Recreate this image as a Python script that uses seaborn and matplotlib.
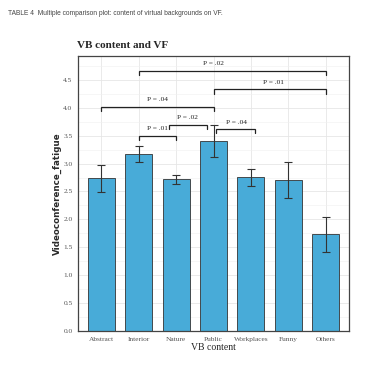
import numpy as np
import pandas as pd
import matplotlib
matplotlib.use("Agg")
import matplotlib.pyplot as plt
import seaborn as sns

# ─────────────────────────────────────────────
# Multiple comparison plot — VB content vs videoconference fatigue
# ─────────────────────────────────────────────

categories = ["Abstract", "Interior", "Nature", "Public", "Workplaces", "Funny", "Others"]
means      = [2.74, 3.17, 2.72, 3.41, 2.76, 2.71, 1.73]
err_low    = [2.49, 3.02, 2.64, 3.11, 2.60, 2.39, 1.41]
err_high   = [2.98, 3.31, 2.80, 3.70, 2.90, 3.02, 2.04]

# pairwise comparisons: (from group, to group, bracket height, label)
comp_from   = [1.0, 3.0, 0.0, 1.8, 1.0, 3.07]
comp_to     = [6.0, 6.0, 3.0, 2.83, 2.0, 4.12]
comp_height = [4.66, 4.33, 4.02, 3.70, 3.50, 3.62]
comp_label  = ["P = .02", "P = .01", "P = .04", "P = .02", "P = .01", "P = .04"]
label_x     = [3.0, 4.6, 1.5, 2.3, 1.5, 3.6]

BAR_COLOR = "#48ABD8"
SERIF = ["Liberation Serif", "DejaVu Serif"]

sns.set_style("white")
plt.rcParams["font.family"] = ["DejaVu Sans"]

df = pd.DataFrame({"content": categories, "fatigue": means})

fig = plt.figure(figsize=(3.65, 3.65), dpi=100)
ax = fig.add_axes([0.2137, 0.093, 0.7425, 0.754])

sns.barplot(data=df, x="content", y="fatigue", order=categories,
            color=BAR_COLOR, saturation=1, width=0.72, errorbar=None,
            edgecolor="#333333", linewidth=0.6, ax=ax, zorder=2)

xs = np.arange(len(categories))
m = np.array(means)
yerr = np.vstack([m - np.array(err_low), np.array(err_high) - m])
ax.errorbar(xs, m, yerr=yerr, fmt="none", ecolor="#333333",
            elinewidth=0.8, capsize=2.8, capthick=0.8, zorder=3)

tip = 0.08
for x1, x2, h, lab, lx in zip(comp_from, comp_to, comp_height, comp_label, label_x):
    ax.plot([x1, x1, x2, x2], [h - tip, h, h, h - tip], color="#222222",
            linewidth=0.9, zorder=4, solid_joinstyle="miter")
    ax.text(lx, h + 0.08, lab, ha="center", va="bottom", fontsize=5.3,
            family=SERIF, color="#222222")

ax.set_ylim(0, 4.93)
ax.set_xlim(-0.62, 6.62)
ax.set_yticks(np.arange(0, 4.51, 0.5))
ax.set_yticks(np.arange(0.25, 4.9, 0.5), minor=True)
ax.set_yticklabels([f"{v:.1f}" for v in np.arange(0, 4.51, 0.5)])
ax.grid(True, which="major", color="#e6e6e6", linewidth=0.6, zorder=0)
ax.grid(True, which="minor", axis="y", color="#f0f0f0", linewidth=0.4, zorder=0)
ax.set_axisbelow(True)

for lab in ax.get_xticklabels() + ax.get_yticklabels():
    lab.set_family(SERIF)
    lab.set_fontsize(5.3)
    lab.set_color("#555555")
ax.tick_params(axis="both", which="major", length=2, width=0.5,
               color="#555555", pad=2)
ax.tick_params(axis="both", which="minor", length=0)

for s in ax.spines.values():
    s.set_color("#444444")
    s.set_linewidth(0.9)

ax.set_xlabel("VB content", fontsize=7, family=SERIF, labelpad=1)
ax.set_ylabel("Videoconference_fatigue", fontsize=6.3, color="#2a2a2a",
              fontweight="bold", labelpad=1)
ax.set_title("VB content and VF", fontsize=8, family=SERIF,
             fontweight="bold", loc="left", x=-0.005, pad=6)

fig.text(0.022, 0.962, "TABLE 4  Multiple comparison plot: content of virtual backgrounds on VF.",
         fontsize=4.8, color="#444444", ha="left", va="center",
         family=["Liberation Sans Narrow", "Liberation Sans", "DejaVu Sans"])

fig.savefig("out.png", dpi=100)
